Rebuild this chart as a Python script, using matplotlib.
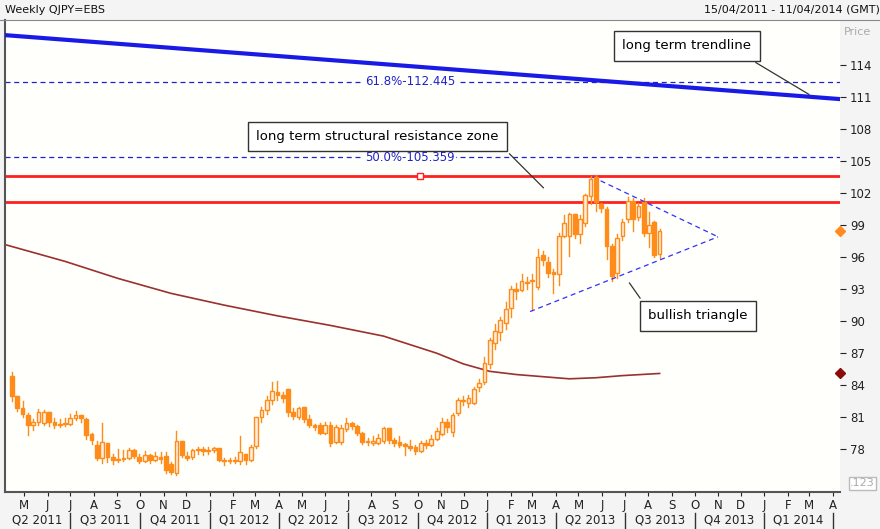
import datetime as dt
import matplotlib
matplotlib.use("Agg")
import matplotlib.pyplot as plt
from matplotlib.patches import Rectangle

START = dt.date(2011, 4, 15)
opens = [84.9,83.0,81.9,81.2,80.3,80.6,80.5,81.5,80.6,80.3,80.4,80.4,80.9,81.2,80.8,79.4,78.4,77.2,78.6,77.3,
         77.0,77.1,77.2,77.9,77.3,76.9,77.5,77.0,77.3,77.4,76.6,75.8,78.8,77.4,77.3,77.9,78.0,77.8,77.9,78.1,
         77.0,76.9,77.0,76.9,77.6,77.0,78.3,81.0,81.7,82.6,83.4,83.1,83.6,81.5,81.0,82.0,80.8,80.3,80.3,79.5,
         80.3,78.7,78.7,79.9,80.5,80.2,79.5,78.7,78.6,78.6,78.8,80.0,78.9,78.7,78.5,78.3,78.2,77.8,78.6,78.4,
         79.0,79.4,80.6,79.6,81.4,82.6,82.3,82.3,83.8,84.3,86.0,88.0,89.0,89.8,91.2,93.0,92.9,93.6,93.8,93.2,
         96.2,95.5,94.6,94.4,98.0,98.0,100.0,98.2,99.2,101.7,103.5,101.0,100.5,97.0,94.5,98.0,99.6,101.3,99.8,101.2,
         98.3,99.3,96.3]
closes = [83.0,81.9,81.3,80.3,80.6,81.5,81.5,80.6,80.3,80.4,80.5,80.9,81.2,80.9,79.3,78.9,77.2,78.7,77.3,77.0,
          77.1,77.2,77.9,77.4,76.9,77.5,77.0,77.4,77.1,76.1,75.9,78.8,77.5,77.2,77.9,78.0,77.8,77.9,78.1,77.0,
          76.9,77.0,76.9,77.7,77.0,78.2,81.0,81.7,82.6,83.5,83.1,82.8,81.5,81.1,81.9,80.8,80.3,80.1,79.5,80.3,
          78.6,80.1,80.0,80.5,80.2,79.5,78.7,78.7,78.8,79.1,80.0,78.9,78.6,78.4,78.3,78.1,77.8,78.6,78.4,79.0,
          79.7,80.6,80.1,81.2,82.6,82.5,82.8,83.6,84.2,86.1,88.2,89.1,90.1,91.1,93.0,92.8,93.8,93.7,93.9,96.0,
          95.7,94.5,94.4,98.0,99.2,100.0,98.2,99.6,101.8,103.3,101.2,100.6,97.0,94.2,97.8,99.3,101.3,99.6,100.8,98.3,
          99.0,96.2,98.4]
highs = [85.2,83.0,82.5,81.4,80.8,81.8,81.7,81.5,80.9,80.8,80.9,81.3,81.6,81.2,80.9,79.5,78.8,80.5,78.6,77.6,
         78.0,77.9,78.1,78.0,77.6,77.8,77.6,77.7,77.7,77.7,76.8,79.7,78.8,77.7,78.0,78.2,78.2,78.2,78.2,78.1,
         77.2,77.2,77.3,79.2,77.6,78.4,81.0,82.0,83.0,84.3,84.4,83.4,83.6,81.9,82.0,82.0,81.2,80.4,80.5,80.6,
         80.6,80.3,80.3,80.9,80.6,80.3,79.6,79.1,79.2,79.4,80.1,80.0,79.1,79.2,78.6,78.9,78.4,78.8,78.9,79.3,
         80.0,80.9,80.8,81.4,82.8,83.0,83.1,83.8,84.6,86.6,88.4,89.7,90.4,91.8,93.3,93.6,94.4,94.1,94.4,96.8,
         96.6,96.0,94.9,98.3,99.9,100.1,100.0,99.9,101.9,103.6,103.7,101.1,100.7,97.2,98.2,99.6,101.6,101.5,101.1,101.5,
         100.2,99.4,98.6]
lows = [82.5,81.6,81.0,79.3,79.8,80.3,80.3,80.2,80.0,80.1,80.2,80.3,80.7,80.6,79.0,78.5,77.0,76.7,76.8,76.6,
        76.8,76.9,77.1,77.2,76.7,76.8,76.7,76.9,76.7,75.8,75.7,75.6,77.3,77.0,77.1,77.6,77.5,77.6,77.7,76.9,
        76.5,76.7,76.7,76.6,76.6,76.9,78.1,80.6,81.3,82.2,82.6,82.4,81.1,80.8,80.8,80.6,80.1,79.8,79.4,79.4,
        78.3,78.6,78.5,79.7,79.9,79.3,78.5,78.4,78.4,78.5,78.6,78.6,78.3,78.2,77.5,77.9,77.6,77.7,78.1,78.3,
        78.9,79.3,79.6,79.2,81.2,82.1,82.0,82.2,83.5,84.1,85.6,87.4,88.2,89.3,90.4,92.1,92.8,93.0,91.0,93.0,
        95.3,94.1,92.6,93.4,97.9,96.1,97.8,97.3,98.9,101.0,100.3,100.2,95.8,93.8,94.0,97.6,99.3,98.4,99.5,98.0,
        96.9,96.0,95.9]
ma_weeks = [-1.5, 10, 20, 30, 40, 50, 60, 70, 80, 85, 90, 95, 100, 105, 110, 115, 122]
ma_values = [97.2, 95.6, 94.0, 92.6, 91.5, 90.5, 89.6, 88.6, 87.0, 86.0, 85.3, 85.0, 84.8, 84.6, 84.7, 84.9, 85.1]
resistance = [103.6, 101.2]
fib_levels = [112.445, 105.359]
fib_labels = ["61.8%-112.445", "50.0%-105.359"]
trend_x = [-1.5, 156]
trend_y = [116.8, 110.8]
tri_upper_x = [109.4, 133.0]; tri_upper_y = [103.5, 97.9]
tri_lower_x = [97.6, 133.0]; tri_lower_y = [90.9, 97.9]
yticks = [78, 81, 84, 87, 90, 93, 96, 99, 102, 105, 108, 111, 114]

def wk(d):
    return (d - START).days / 7.0

fig = plt.figure(figsize=(8.8, 5.29), dpi=100, facecolor="#f4f4f4")
ax = fig.add_axes([0.0057, 0.07, 0.949, 0.892], facecolor="#fffffb")
XL, XR = -1.3, 156.0
ax.set_xlim(XL, XR)
ax.set_ylim(74.0, 118.2)

orange = "#ff8c1a"
for i, (o, h, l, c) in enumerate(zip(opens, highs, lows, closes)):
    ax.plot([i, i], [l, h], color=orange, lw=1, zorder=3)
    bull = c >= o
    ax.add_patch(Rectangle((i - 0.35, min(o, c)), 0.7, max(abs(c - o), 0.08),
                           facecolor="#ffeedd" if bull else orange, edgecolor=orange, lw=1, zorder=4))

ax.plot(ma_weeks, ma_values, color="#9b3030", lw=1.2, zorder=2)
for r in resistance:
    ax.axhline(r, color="#ff2020", lw=2, zorder=2)
ax.plot(wk(dt.date(2012, 10, 1)) + 0.5, 103.6, marker="s", ms=5, mfc="white", mec="#ff2020", zorder=5)
for lv, lb in zip(fib_levels, fib_labels):
    ax.axhline(lv, color="#2020d0", lw=0.9, ls=(0, (4, 3)), zorder=2)
    ax.text(75, lv, lb, color="#2020d0", fontsize=8.5, ha="center", va="center",
            bbox=dict(facecolor="#fffffb", edgecolor="none", pad=1), zorder=3)
ax.plot(trend_x, trend_y, color="#1a1ae6", lw=3, zorder=3)
ax.plot(tri_upper_x, tri_upper_y, color="#3030ff", lw=0.9, ls=(0, (4, 3)), zorder=3)
ax.plot(tri_lower_x, tri_lower_y, color="#3030ff", lw=0.9, ls=(0, (4, 3)), zorder=3)

box = dict(facecolor="white", edgecolor="#333333", pad=6, lw=1)
ax.annotate("long term trendline", xy=(150.6, 111.1), xytext=(115.0, 115.8), fontsize=9.5,
            ha="left", va="center", bbox=box, arrowprops=dict(arrowstyle="-", color="#333333", lw=0.9, relpos=(0.9, 0)))
ax.annotate("long term structural resistance zone", xy=(100.5, 102.3), xytext=(46.0, 107.3), fontsize=9.5,
            ha="left", va="center", bbox=box, arrowprops=dict(arrowstyle="-", color="#333333", lw=0.9, relpos=(1, 0)))
ax.annotate("bullish triangle", xy=(116.0, 93.8), xytext=(119.8, 90.5), fontsize=9.5,
            ha="left", va="center", bbox=box, arrowprops=dict(arrowstyle="-", color="#333333", lw=0.9, relpos=(0, 1)))

ax.yaxis.tick_right()
ax.set_yticks(yticks)
ax.tick_params(axis="y", direction="out", length=4, labelsize=8.5, colors="#222222", pad=3)
ax.text(1.005, 0.975, "Price", transform=ax.transAxes, fontsize=8, color="#aaaaaa", ha="left", va="center")
ax.text(1.012, 0.018, ".123", transform=ax.transAxes, fontsize=8, color="#aaaaaa", ha="left", va="center",
        bbox=dict(facecolor="white", edgecolor="#bbbbbb", pad=1))
ax.plot([XR], [98.4], marker="D", ms=5, color=orange, clip_on=False, zorder=6)
ax.plot([XR], [85.1], marker="D", ms=5, color="#8b0a0a", clip_on=False, zorder=6)

for s in ["top", "right"]:
    ax.spines[s].set_visible(False)
ax.spines["left"].set_color("#555555"); ax.spines["bottom"].set_color("#555555")
ax.spines["left"].set_linewidth(1.5); ax.spines["bottom"].set_linewidth(1.5)

months = []
y, m = 2011, 5
while (y, m) <= (2014, 4):
    months.append(dt.date(y, m, 1))
    m += 1
    if m > 12:
        m = 1; y += 1
ax.set_xticks([wk(d) for d in months])
ax.set_xticklabels(["JFMAMJJASOND"[d.month - 1] for d in months], fontsize=8.5)
ax.tick_params(axis="x", direction="out", length=3, pad=2, colors="#222222")

quarters = [(dt.date(2011, 4, 1), "Q2 2011")]
for yy in (2011, 2012, 2013, 2014):
    for q, mm in enumerate((1, 4, 7, 10)):
        d = dt.date(yy, mm, 1)
        if dt.date(2011, 7, 1) <= d <= dt.date(2014, 1, 1):
            quarters.append((d, f"Q{q+1} {yy}"))
for d, lb in quarters:
    nxt = dt.date(d.year + (d.month + 3 > 12), (d.month + 2) % 12 + 1, 1)
    a, b = max(wk(d), XL), min(wk(nxt), XR)
    ax.text((a + b) / 2, -0.059, lb, transform=ax.get_xaxis_transform(), fontsize=8.5,
            ha="center", va="center", color="#222222")
    if wk(nxt) < XR + 1:
        ax.plot([wk(nxt)] * 2, [-0.045, -0.08], transform=ax.get_xaxis_transform(), color="#333333",
                lw=1, clip_on=False)

fig.text(0.006, 0.982, "Weekly QJPY=EBS", fontsize=8, ha="left", va="center", color="#111111")
fig.text(1.0, 0.982, "15/04/2011 - 11/04/2014 (GMT)", fontsize=8, ha="right", va="center", color="#111111",
         clip_on=True)
fig.add_artist(plt.Line2D([0, 1], [0.963, 0.963], color="#888888", lw=0.8))

fig.savefig("out.png", dpi=100, facecolor=fig.get_facecolor())
